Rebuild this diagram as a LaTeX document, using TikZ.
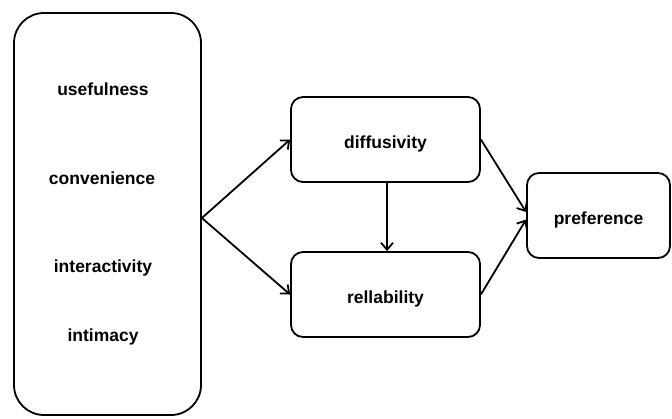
\documentclass[tikz,border=0pt]{standalone}
\usepackage{fontspec}
\setmainfont{Liberation Sans}
\usetikzlibrary{arrows.meta}
\begin{document}
\begin{tikzpicture}[x=1pt,y=-1pt,
  box/.style={draw,line width=1.8pt,rounded corners=12pt,inner sep=0pt},
  lbl/.style={font=\fontsize{17.5}{20}\selectfont\bfseries},
  boxlbl/.style={lbl,text height=17pt,text depth=0pt},
  conn/.style={line width=1.8pt,-{Straight Barb[length=7pt,width=12pt,line width=1.8pt]}}]
\useasboundingbox (0,0) rectangle (672,418);
\node[box,rounded corners=30pt,minimum width=187pt,minimum height=402pt] (factors) at (107.5,214) {};
\node[lbl] (use) at (103,89) {usefulness};
\node[lbl] (conv) at (102,178) {convenience};
\node[lbl] (inter) at (103,268) {interactivity};
\node[lbl] (intim) at (103,337) {intimacy};
\node[box,minimum width=189pt,minimum height=85pt,boxlbl] (diff) at (385.5,139.5) {diffusivity};
\node[box,minimum width=189pt,minimum height=85pt,boxlbl] (rel) at (385.5,294.5) {rellability};
\node[box,minimum width=143pt,minimum height=85pt,boxlbl] (pref) at (598.5,215.5) {preference};
\draw[conn] ([yshift=-4pt]factors.east) -- (diff.west);
\draw[conn] ([yshift=-4pt]factors.east) -- (rel.west);
\draw[conn] ([xshift=1.5pt]diff.south) -- ([xshift=1.5pt]rel.north);
\draw[conn] (diff.east) -- ([yshift=3.5pt]pref.west);
\draw[conn] (rel.east) -- ([yshift=-4pt]pref.west);
\end{tikzpicture}
\end{document}
